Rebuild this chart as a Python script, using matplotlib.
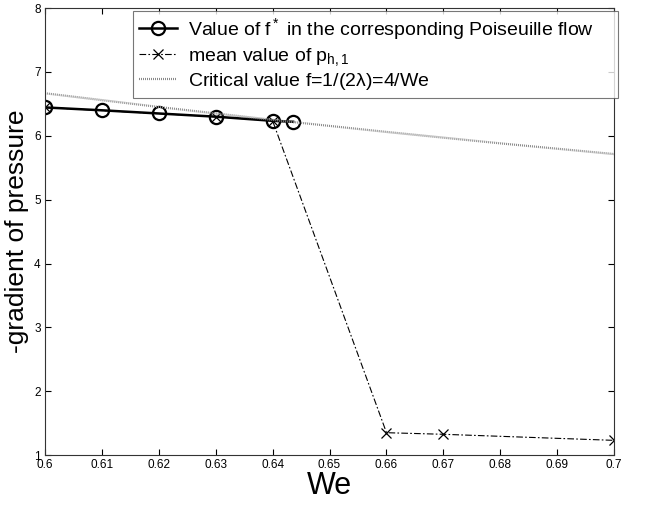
import matplotlib.pyplot as plt

plt.rcParams["font.family"] = ["Liberation Sans", "DejaVu Sans"]
plt.rcParams["mathtext.fontset"] = "custom"
plt.rcParams["mathtext.rm"] = "Liberation Sans"
plt.rcParams["mathtext.it"] = "Liberation Sans"

# Poiseuille flow value f*
we_f = [0.60, 0.61, 0.62, 0.63, 0.64, 0.6436]
f_star = [6.445, 6.40, 6.35, 6.30, 6.235, 6.22]

# mean value of p_h,1
we_p = [0.60, 0.63, 0.64, 0.66, 0.67, 0.70]
p_mean = [6.445, 6.30, 6.235, 1.35, 1.325, 1.23]

# critical value 4/We
we_c = [0.60, 0.62, 0.64, 0.66, 0.68, 0.70]
f_crit = [6.667, 6.452, 6.25, 6.061, 5.882, 5.714]

x_ticks = [0.6, 0.61, 0.62, 0.63, 0.64, 0.65, 0.66, 0.67, 0.68, 0.69, 0.7]
x_labels = ["0.6", "0.61", "0.62", "0.63", "0.64", "0.65", "0.66", "0.67", "0.68", "0.69", "0.7"]
y_ticks = [1, 2, 3, 4, 5, 6, 7, 8]

fig = plt.figure(figsize=(6.5, 5.09), dpi=100)
ax = fig.add_axes([0.069, 0.106, 0.876, 0.878])

ax.plot(we_f, f_star, "-", color="black", linewidth=1.8, marker="o",
        markersize=9.5, markerfacecolor="none", markeredgewidth=1.6,
        label=r"Value of f$^*$ in the corresponding Poiseuille flow")
ax.plot(we_p, p_mean, color="black", linewidth=0.8, linestyle=(0, (6, 2, 1.5, 2)),
        marker="x", markersize=7, markeredgewidth=0.9,
        label=r"mean value of p$_{\mathrm{h,1}}$")
ax.plot(we_c, f_crit, color="#8a8a8a", linewidth=1.6, linestyle=(0, (0.45, 0.45)),
        label=r"Critical value f=1/(2$\lambda$)=4/We")

ax.set_xlim(0.6, 0.7)
ax.set_ylim(1, 8)
ax.set_xticks(x_ticks)
ax.set_xticklabels(x_labels)
ax.set_yticks(y_ticks)
ax.tick_params(direction="in", top=True, right=True, length=4, width=0.8,
               labelsize=8.5, pad=3)
for s in ax.spines.values():
    s.set_linewidth(0.8)
    s.set_color("#333333")

ax.set_xlabel("We", fontsize=22, labelpad=0)
ax.set_ylabel("-gradient of pressure", fontsize=19)
ax.yaxis.set_label_coords(-0.027, 0.5)

# legend box stretched over the upper part of the axes
leg = ax.legend(loc="upper left", bbox_to_anchor=(0.155, 0.5, 0.852, 0.494),
                mode="expand", fontsize=14, frameon=True, fancybox=False,
                handlelength=2.0, numpoints=1, borderaxespad=0,
                labelspacing=0.18, handletextpad=0.55, borderpad=0.28)
leg.get_frame().set_edgecolor("#555555")
leg.get_frame().set_linewidth(0.8)

fig.savefig("out.png", dpi=100)
